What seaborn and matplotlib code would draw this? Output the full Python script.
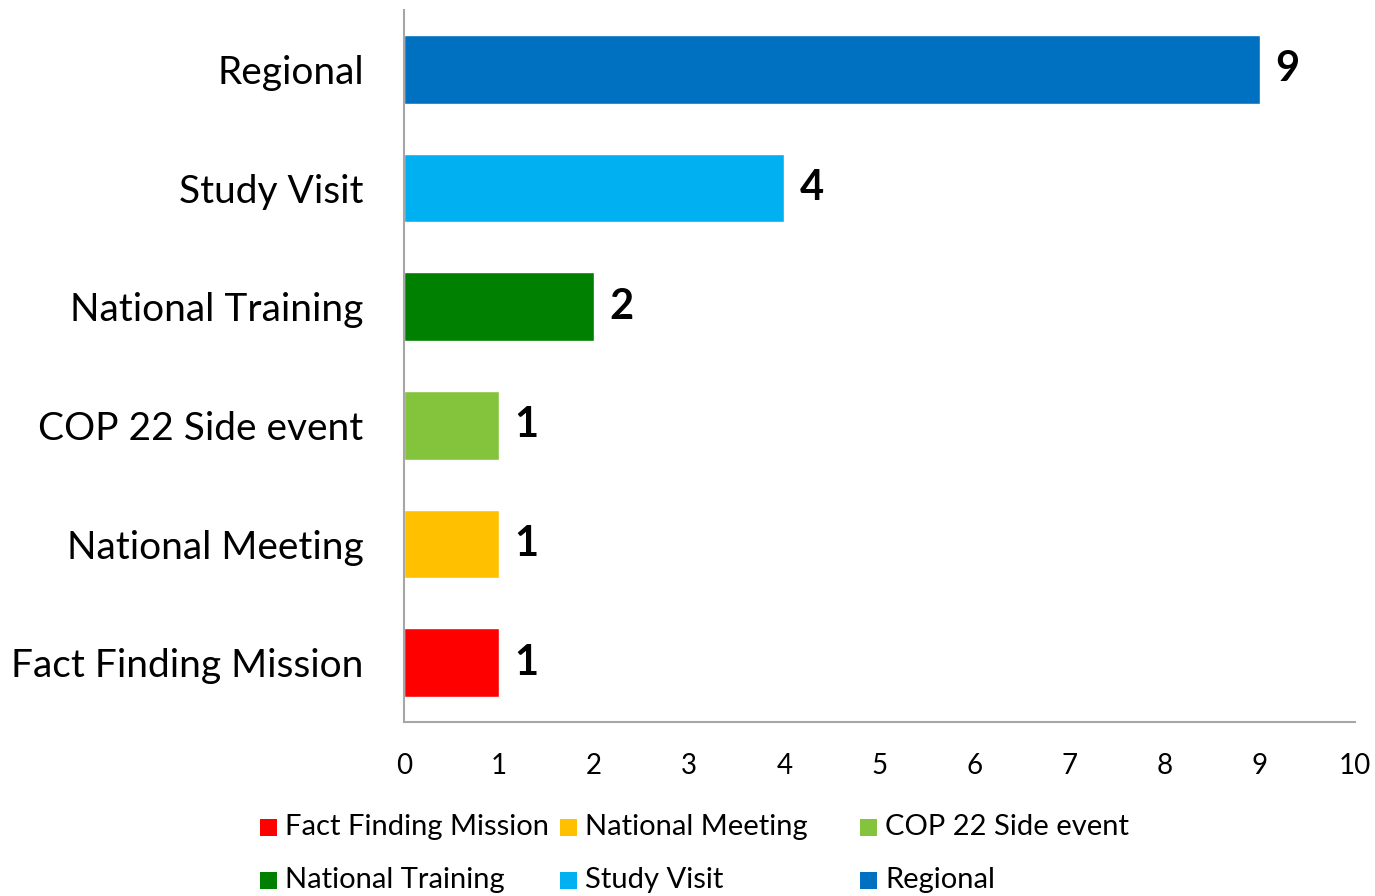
import matplotlib
matplotlib.use("Agg")
import matplotlib.pyplot as plt
from matplotlib.patches import Rectangle
import seaborn as sns
import pandas as pd

# top-to-bottom order, as in the chart
categories = ["Regional", "Study Visit", "National Training",
              "COP 22 Side event", "National Meeting", "Fact Finding Mission"]
counts = [9, 4, 2, 1, 1, 1]
colors = ["#0070C0", "#00B0F0", "#008000", "#84C43C", "#FFC000", "#FF0000"]
legend_order = ["Fact Finding Mission", "National Meeting", "COP 22 Side event",
                "National Training", "Study Visit", "Regional"]
x_ticks = list(range(0, 11))

sns.set_theme(style="white")
plt.rcParams["font.family"] = ["Lato", "DejaVu Sans"]

df = pd.DataFrame({"category": categories, "count": counts})
palette = dict(zip(categories, colors))

fig = plt.figure(figsize=(13.75, 8.96), dpi=100)
ax = fig.add_axes([404 / 1375, 1 - 722 / 896, (1355 - 404) / 1375, (722 - 10) / 896])

sns.barplot(data=df, x="count", y="category", hue="category", order=categories,
            hue_order=categories, palette=palette, dodge=False, legend=False,
            width=0.58, saturation=1, ax=ax)

for cont in ax.containers:
    ax.bar_label(cont, padding=11, fontsize=30, fontweight="bold", color="black")

ax.set_xlim(0, 10)
ax.set_ylim(5.5, -0.5)
ax.set_xticks(x_ticks)
ax.set_xlabel("")
ax.set_ylabel("")
ax.tick_params(axis="x", length=0, pad=22, labelsize=20)
ax.tick_params(axis="y", length=0, pad=29, labelsize=28)
for lab in ax.get_yticklabels():
    lab.set_color("black")
for lab in ax.get_xticklabels():
    lab.set_color("black")

for side in ["top", "right"]:
    ax.spines[side].set_visible(False)
for side in ["left", "bottom"]:
    ax.spines[side].set_color("#A6A6A6")
    ax.spines[side].set_linewidth(1.5)

# legend laid out on a fixed grid like the original
col_x = [260, 560, 860]
row_y = [827, 880]
sq = 17
for i, name in enumerate(legend_order):
    cx = col_x[i % 3]
    cy = row_y[i // 3]
    fig.add_artist(Rectangle(((cx) / 1375, 1 - (cy + sq / 2) / 896), sq / 1375, sq / 896,
                             transform=fig.transFigure, facecolor=palette[name],
                             edgecolor="none"))
    fig.text((cx + sq + 8) / 1375, 1 - cy / 896, name, fontsize=21,
             va="center", ha="left", color="black")

fig.savefig("out.png", dpi=100)
